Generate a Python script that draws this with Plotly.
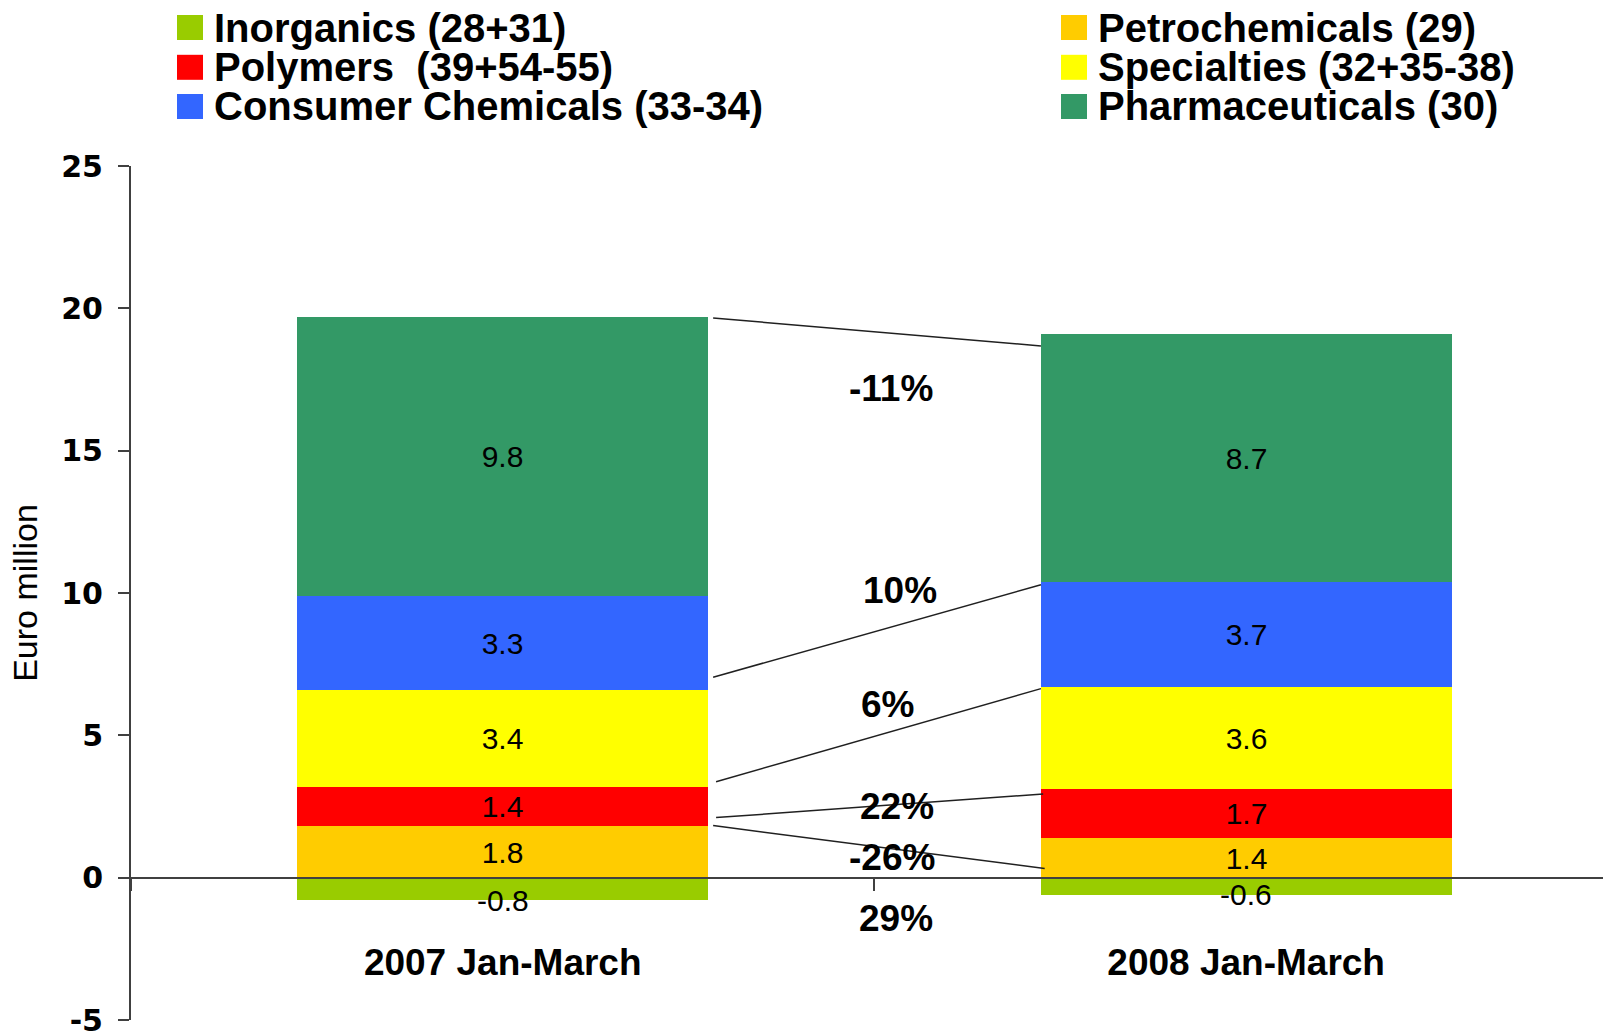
import plotly.graph_objects as go

# ---------------- data ----------------
categories = ["2007 Jan-March", "2008 Jan-March"]

series_names = [
    "Inorganics (28+31)",
    "Petrochemicals (29)",
    "Polymers\u00a0 (39+54-55)",
    "Specialties (32+35-38)",
    "Consumer Chemicals (33-34)",
    "Pharmaceuticals (30)",
]
series_colors = ["#99CC00", "#FFCC00", "#FF0000", "#FFFF00", "#3366FF", "#339966"]

inorganics = [-0.8, -0.6]
petrochemicals = [1.8, 1.4]
polymers = [1.4, 1.7]
specialties = [3.4, 3.6]
consumer_chemicals = [3.3, 3.7]
pharmaceuticals = [9.8, 8.7]
series_values = [inorganics, petrochemicals, polymers, specialties,
                 consumer_chemicals, pharmaceuticals]

change_labels = ["-11%", "10%", "6%", "22%", "-26%", "29%"]
change_label_x = [0.522, 0.534, 0.518, 0.530, 0.523, 0.529]
change_label_y = [17.2, 10.1, 6.1, 2.5, 0.7, -1.45]

connector_x0 = [0.283, 0.283, 0.287, 0.287, 0.283]
connector_y0 = [19.66, 7.04, 3.37, 2.11, 1.83]
connector_x1 = [0.724, 0.724, 0.724, 0.727, 0.729]
connector_y1 = [18.68, 10.29, 6.64, 2.94, 0.32]

y_ticks = [-5, 0, 5, 10, 15, 20, 25]
y_tick_text = ["-5", "0", "5", "10", "15", "20", "25"]

# ---------------- layout constants ----------------
W, H = 1603, 1034
ML, MR, MT, MB = 131, 0, 166, 14
PW, PH = W - ML - MR, H - MT - MB


def px_x(px):
    """page pixel -> paper fraction"""
    return (px - ML) / PW


def px_y(py):
    return (H - MB - py) / PH


AX = "#404040"
SANS = "Liberation Sans, Arial, sans-serif"
label_font = dict(family=SANS, size=30, color="black")

fig = go.Figure()
for idx, (name, color, vals) in enumerate(zip(series_names, series_colors, series_values)):
    neg = idx == 0  # negative segment: label drawn at the bar end instead
    fig.add_trace(go.Bar(
        x=categories, y=vals, name=name,
        marker=dict(color=color, line=dict(width=0)),
        width=0.553,
        text=None if neg else [f"{v:.1f}" for v in vals],
        textposition="none" if neg else "inside", insidetextanchor="middle",
        constraintext="none",
        textfont=label_font,
        showlegend=False, hoverinfo="x+y+name",
    ))

shapes = []
annotations = []

# labels of the negative (Inorganics) segments
for c, v in zip(categories, inorganics):
    annotations.append(dict(x=c, y=v, xref="x", yref="y", text=f"{v:.1f}",
                            showarrow=False, xanchor="center", yanchor="middle",
                            font=label_font))

# connector lines
for x0, y0, x1, y1 in zip(connector_x0, connector_y0, connector_x1, connector_y1):
    shapes.append(dict(type="line", xref="x", yref="y", x0=x0, y0=y0, x1=x1, y1=y1,
                       line=dict(color="#202020", width=1.5)))

for t, x, y in zip(change_labels, change_label_x, change_label_y):
    annotations.append(dict(x=x, y=y, xref="x", yref="y", text=t, showarrow=False,
                            xanchor="center", yanchor="middle",
                            font=dict(family=SANS, size=37, color="black", weight="bold")))

# manual legend: two columns of three rows
leg_sq_x = [177, 1061]
leg_text_x = [212, 1096]
leg_row_y = [27.5, 67.3, 106.5]
for i, (name, color) in enumerate(zip(series_names, series_colors)):
    col, row = i % 2, i // 2
    cy = leg_row_y[row]
    shapes.append(dict(type="rect", xref="paper", yref="paper",
                       x0=px_x(leg_sq_x[col]), x1=px_x(leg_sq_x[col] + 26),
                       y0=px_y(cy + 12.5), y1=px_y(cy - 12.5),
                       fillcolor=color, line=dict(width=0)))
    annotations.append(dict(x=px_x(leg_text_x[col]), y=px_y(cy), xref="paper", yref="paper",
                            text=name, showarrow=False, xanchor="left", yanchor="middle",
                            font=dict(family=SANS, size=40, color="black", weight="bold")))

fig.update_layout(
    width=W, height=H,
    margin=dict(l=ML, r=MR, t=MT, b=MB, pad=0, autoexpand=False),
    paper_bgcolor="white", plot_bgcolor="white",
    barmode="relative", bargap=0,
    shapes=shapes, annotations=annotations,
    showlegend=False,
    xaxis=dict(
        type="category", categoryorder="array", categoryarray=categories,
        range=[-0.5, 1.48], anchor="free", position=5 / 30,
        automargin=False,
        showline=True, linecolor=AX, linewidth=2,
        ticks="outside", tickson="boundaries", ticklen=12, tickwidth=1.5, tickcolor=AX,
        ticklabelstandoff=52, ticklabeloverflow="allow",
        tickfont=dict(family=SANS, size=37, color="black", weight="bold"),
        showgrid=False, zeroline=False,
    ),
    yaxis=dict(
        range=[-5, 25], tickmode="array", tickvals=y_ticks, ticktext=y_tick_text,
        automargin=False,
        showline=True, linecolor=AX, linewidth=2,
        ticks="outside", ticklen=11, tickwidth=2, tickcolor=AX,
        ticklabelstandoff=9, ticklabeloverflow="allow",
        tickfont=dict(family="DejaVu Sans, Verdana, sans-serif", size=30,
                      color="black", weight="bold"),
        title=dict(text="Euro million", standoff=13,
                   font=dict(family=SANS, size=34, color="black")),
        showgrid=False, zeroline=False,
    ),
)

fig.write_html(
    "out.html",
    config={"displayModeBar": False},
    post_script="document.body.style.margin='0';document.body.style.overflow='hidden';",
)
